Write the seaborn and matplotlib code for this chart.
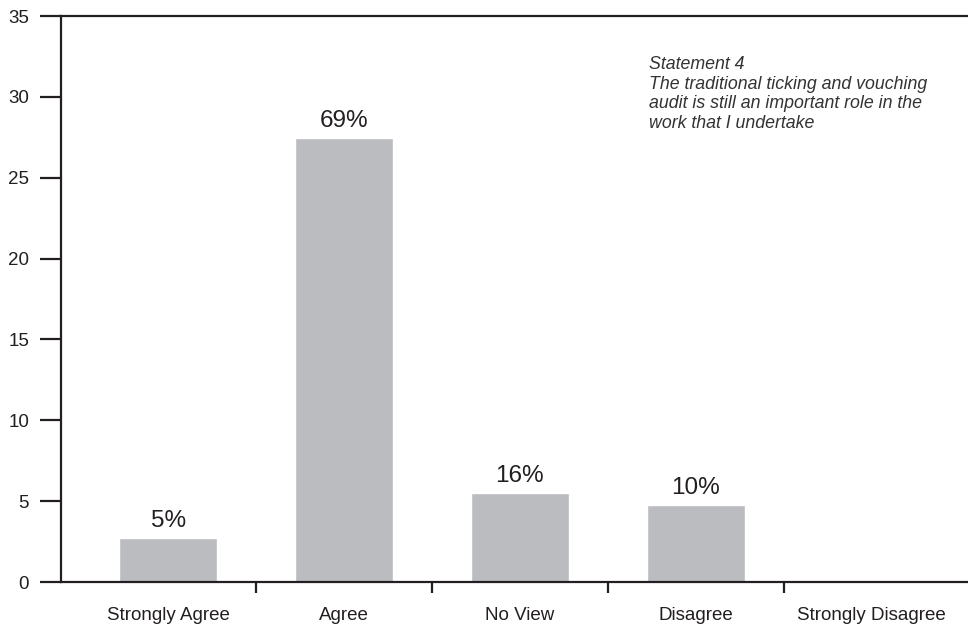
import matplotlib
matplotlib.use("Agg")
import matplotlib.pyplot as plt
import seaborn as sns
from matplotlib.ticker import FixedLocator

# Survey responses for statement 4
categories = ["Strongly Agree", "Agree", "No View", "Disagree", "Strongly Disagree"]
counts = [2.74, 27.48, 5.52, 4.76, 0.0]
pct_labels = ["5%", "69%", "16%", "10%", ""]
y_ticks = [0, 5, 10, 15, 20, 25, 30, 35]

statement = ("Statement 4\n"
             "The traditional ticking and vouching\n"
             "audit is still an important role in the\n"
             "work that I undertake")

sns.set_theme(style="white")
plt.rcParams["font.family"] = ["Liberation Sans", "DejaVu Sans"]

ink = "#231f20"
fig = plt.figure(figsize=(9.68, 6.24), dpi=100)
ax = fig.add_axes([0.063, 0.0673, 0.95, 0.907])

sns.barplot(x=categories, y=counts, color="#bbbcc0", saturation=1,
            width=0.56, ax=ax, zorder=2)

for i, (v, lab) in enumerate(zip(counts, pct_labels)):
    if lab:
        ax.annotate(lab, (i, v), xytext=(0, 4), textcoords="offset points",
                    ha="center", va="bottom", fontsize=17.5, color=ink)

ax.set_xlim(-0.61, 4.62)
ax.set_ylim(0, 35)
ax.set_yticks(y_ticks)
ax.set_yticklabels([str(t) for t in y_ticks])
ax.set_xlabel("")
ax.set_ylabel("")

# category labels at bar centres, tick marks at category boundaries
ax.set_xticks(range(len(categories)))
ax.set_xticklabels(categories)
ax.xaxis.set_minor_locator(FixedLocator([0.5, 1.5, 2.5, 3.5]))
ax.tick_params(axis="x", which="major", length=0, pad=18, labelsize=13.5,
               colors=ink)
ax.tick_params(axis="x", which="minor", bottom=True, length=8, width=1.6,
               color=ink, direction="out")
ax.tick_params(axis="y", which="major", left=True, length=15, width=1.6,
               pad=8, labelsize=13.5, colors=ink, direction="out")

for side in ["left", "bottom", "top"]:
    ax.spines[side].set_visible(True)
    ax.spines[side].set_color(ink)
    ax.spines[side].set_linewidth(1.6)
ax.spines["right"].set_visible(False)
ax.grid(False)

ax.text(0.639, 0.929, statement, transform=ax.transAxes, ha="left", va="top",
        fontsize=12.8, fontstyle="italic", color="#333333", linespacing=1.2)

fig.savefig("out.png", dpi=100)
